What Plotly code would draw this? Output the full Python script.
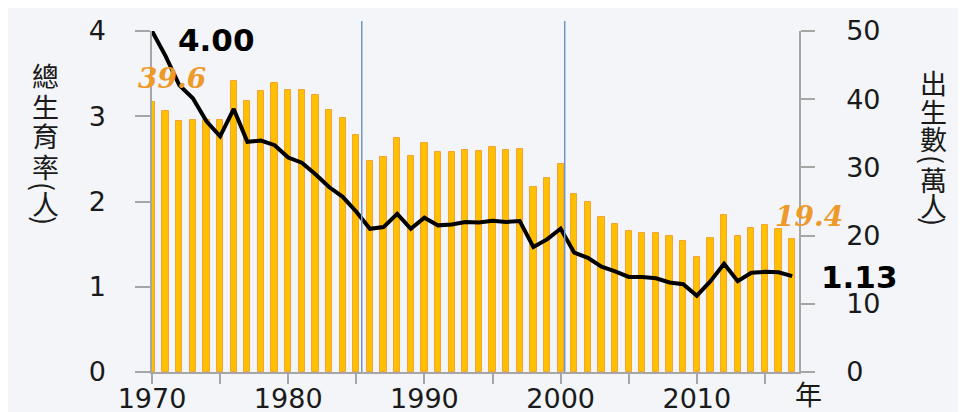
import plotly.graph_objects as go

# ---- data ----
years = list(range(1970, 2018))
births_10k = [39.6, 38.3, 36.8, 37.0, 36.9, 36.9, 42.6, 39.8, 41.2, 42.4,
              41.4, 41.4, 40.6, 38.4, 37.2, 34.8, 30.9, 31.5, 34.3, 31.6,
              33.6, 32.2, 32.2, 32.6, 32.4, 33.0, 32.6, 32.7, 27.1, 28.4,
              30.5, 26.1, 24.9, 22.7, 21.7, 20.7, 20.4, 20.4, 19.9, 19.2,
              16.8, 19.6, 23.0, 19.9, 21.1, 21.5, 21.0, 19.5]
tfr = [4.00, 3.705, 3.365, 3.21, 2.94, 2.765, 3.085, 2.70, 2.715, 2.66,
       2.515, 2.455, 2.32, 2.17, 2.055, 1.88, 1.68, 1.70, 1.855, 1.68,
       1.81, 1.72, 1.73, 1.76, 1.755, 1.775, 1.76, 1.77, 1.465, 1.555,
       1.68, 1.40, 1.34, 1.235, 1.18, 1.115, 1.115, 1.10, 1.05, 1.03,
       0.895, 1.065, 1.27, 1.065, 1.165, 1.175, 1.17, 1.125]
x_tickvals = [1970, 1975, 1980, 1985, 1990, 1995, 2000, 2005, 2010, 2015]
x_ticktext = ["1970", "", "1980", "", "1990", "", "2000", "", "2010", ""]
left_ticks = [0, 1, 2, 3, 4]
right_ticks = [0, 10, 20, 30, 40, 50]
marker_years = [1985.4, 2000.3]
left_title = ["總", "生", "育", "率", "(", "人", ")"]
right_title = ["出", "生", "數", "(", "萬", "人", ")"]

# ---- layout geometry (figure pixels; page body adds an 8px offset) ----
W, H = 966, 412
OFF = 8
L, R, T, B = 152 - OFF, 799 - OFF, 31 - OFF, 372 - OFF


def px_x(px):
    """screen x -> paper x"""
    return (px - OFF - L) / (R - L)


def px_y(py):
    """screen y -> paper y"""
    return (B - (py - OFF)) / (B - T)


BG = "#F3F5F9"
AXC = "#A6A6A6"
TXT = "#1a1a1a"
ORANGE = "#EE9A2A"
NUMFONT = "DejaVu Sans"
CJK = "Noto Sans CJK TC"

fig = go.Figure()
fig.add_trace(go.Bar(
    x=years, y=births_10k, yaxis="y", width=0.46,
    marker=dict(color="#FFC000", line=dict(color="#F4A23A", width=1)),
    hoverinfo="x+y",
))
fig.add_trace(go.Scatter(
    x=years, y=tfr, yaxis="y2", mode="lines",
    line=dict(color="black", width=4), cliponaxis=False,
))

shapes = []
for my in marker_years:
    shapes.append(dict(type="line", xref="x", yref="paper", x0=my, x1=my,
                       y0=0, y1=px_y(21), line=dict(color="#6F97C8", width=1.5), layer="above"))

annotations = [
    dict(text="4.00", x=px_x(176), y=px_y(40), xanchor="left", yanchor="middle",
         font=dict(family=NUMFONT, size=31, color="black", weight="bold")),
    dict(text="1.13", x=px_x(819), y=px_y(277), xanchor="left", yanchor="middle",
         font=dict(family=NUMFONT, size=31, color="black", weight="bold")),
    dict(text="39.6", x=px_x(172), y=px_y(78), xanchor="center", yanchor="middle",
         font=dict(family="DejaVu Serif", size=28, color=ORANGE, weight="bold", style="italic")),
    dict(text="19.4", x=px_x(809), y=px_y(216), xanchor="center", yanchor="middle",
         font=dict(family="DejaVu Serif", size=28, color=ORANGE, weight="bold", style="italic")),
    dict(text="年", x=px_x(808), y=px_y(393), xanchor="center", yanchor="middle",
         font=dict(family=CJK, size=27, color=TXT)),
]
left_y = [75, 106, 136, 166, 186, 203, 220]
right_y = [82, 111, 138, 160, 180, 205, 222]
for ch, py in zip(left_title, left_y):
    annotations.append(dict(text=ch, x=px_x(45), y=px_y(py), xanchor="center", yanchor="middle",
                            textangle=90 if ch in "()" else 0,
                            font=dict(family=CJK, size=27, color=TXT)))
for ch, py in zip(right_title, right_y):
    annotations.append(dict(text=ch, x=px_x(934), y=px_y(py), xanchor="center", yanchor="middle",
                            textangle=90 if ch in "()" else 0,
                            font=dict(family=CJK, size=27, color=TXT)))
for a in annotations:
    a.update(xref="paper", yref="paper", showarrow=False)

axis_common = dict(showgrid=False, zeroline=False, showline=True, linecolor=AXC, linewidth=1.5,
                   ticks="outside", tickcolor=AXC, tickwidth=1.5, automargin=False,
                   tickfont=dict(family=NUMFONT, size=27, color=TXT))

fig.update_layout(
    width=W, height=H,
    margin=dict(l=L, r=W - R, t=T, b=H - B, pad=0),
    paper_bgcolor=BG, plot_bgcolor=BG,
    showlegend=False, bargap=0,
    xaxis=dict(range=[1970, 2017.5], tickvals=x_tickvals, ticktext=x_ticktext,
               ticklen=10, ticklabelstandoff=-8, **axis_common),
    yaxis=dict(range=[0, 50], tickvals=right_ticks, side="right",
               ticklen=14, ticklabelstandoff=26, **axis_common),
    yaxis2=dict(range=[0, 4], tickvals=left_ticks, side="left", overlaying="y",
                ticklen=15, ticklabelstandoff=24, **axis_common),
    shapes=shapes, annotations=annotations,
)

fig.write_html("out.html")
